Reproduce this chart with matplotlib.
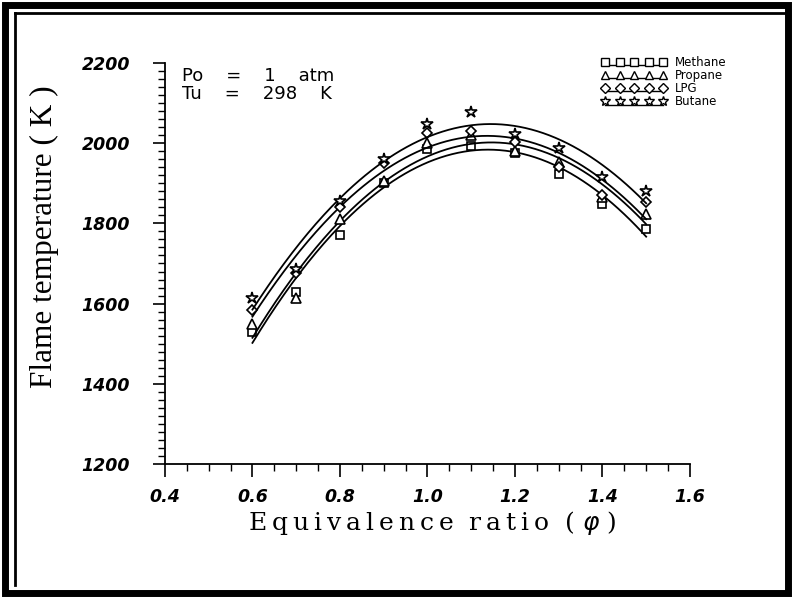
import numpy as np
import matplotlib
matplotlib.use("Agg")
import matplotlib.pyplot as plt
from matplotlib.lines import Line2D
from matplotlib.patches import Rectangle
from matplotlib.ticker import MultipleLocator
from matplotlib.legend_handler import HandlerLine2D, HandlerTuple

# equivalence ratio
phi = [0.6, 0.7, 0.8, 0.9, 1.0, 1.1, 1.2, 1.3, 1.4, 1.5]

# flame temperature (K)
methane = [1529, 1628, 1770, 1900, 1985, 1994, 1975, 1922, 1848, 1787]
propane = [1548, 1614, 1812, 1905, 2000, 2020, 1980, 1952, 1866, 1824]
lpg = [1583, 1677, 1840, 1950, 2025, 2030, 2002, 1940, 1872, 1853]
butane = [1615, 1687, 1856, 1960, 2048, 2078, 2023, 1988, 1915, 1880]

series = [("Methane", methane, "s"), ("Propane", propane, "^"),
          ("LPG", lpg, "D"), ("Butane", butane, "*")]
msize = {"s": 6, "^": 6.5, "D": 5.5, "*": 9}


class UnderLine(HandlerLine2D):
    """Draws the legend line a little below the markers."""
    def create_artists(self, legend, orig_handle, xdescent, ydescent,
                       width, height, fontsize, trans):
        arts = super().create_artists(legend, orig_handle, xdescent,
                                      ydescent, width, height, fontsize,
                                      trans)
        for a in arts:
            a.set_ydata(np.asarray(a.get_ydata()) - 0.4 * height)
        return arts


def spaced(s):
    # mimic the wide letter spacing of the original label
    return "\u2009".join(s)


def main():
    fig = plt.figure(figsize=(7.93, 5.97), dpi=100)
    ax = fig.add_axes([0.208, 0.2228, 0.662, 0.6717])

    x = np.array(phi)
    xs = np.linspace(0.6, 1.5, 200)
    handles = []
    hmap = {}
    for name, vals, mk in series:
        coef = np.polyfit(x, vals, 2)
        ax.plot(xs, np.polyval(coef, xs), color="black", lw=1.3)
        ax.plot(x, vals, linestyle="none", marker=mk, ms=msize[mk],
                mfc="white", mec="black", mew=1.2)
        mline = Line2D([], [], linestyle="none", marker=mk,
                       ms=msize[mk] * 0.85, mfc="white", mec="black",
                       mew=1.0)
        lline = Line2D([], [], color="black", lw=1.0)
        hmap[lline] = UnderLine()
        handles.append((lline, mline))
    hmap[tuple] = HandlerTuple(ndivide=1, pad=0)

    ax.set_xlim(0.4, 1.6)
    ax.set_ylim(1200, 2200)
    ax.xaxis.set_major_locator(MultipleLocator(0.2))
    ax.xaxis.set_minor_locator(MultipleLocator(0.05))
    ax.yaxis.set_major_locator(MultipleLocator(200))
    ax.yaxis.set_minor_locator(MultipleLocator(20))
    for s in ["top", "right"]:
        ax.spines[s].set_visible(False)
    ax.spines["left"].set_linewidth(1.3)
    ax.spines["bottom"].set_linewidth(1.3)
    ax.tick_params(which="major", direction="out", length=9, width=1.2)
    ax.tick_params(which="minor", direction="out", length=5, width=1.0)
    ax.tick_params(axis="x", which="major", pad=8)
    ax.tick_params(axis="y", which="major", pad=16)
    ax.xaxis.set_major_formatter(plt.FormatStrFormatter("%.1f"))
    for lab in ax.get_xticklabels() + ax.get_yticklabels():
        lab.set_fontfamily("DejaVu Sans")
        lab.set_fontweight("bold")
        lab.set_fontstyle("italic")
        lab.set_fontsize(12.5)

    xlab = spaced("Equivalence") + "  " + spaced("ratio") + "  ( " \
        + r"$\varphi$" + " )"
    ax.set_xlabel(xlab, fontsize=18, family="DejaVu Serif")
    ax.xaxis.set_label_coords(0.51, -0.148)
    ax.xaxis.label.set_va("center")
    ax.set_ylabel("Flame temperature ( K )", fontsize=22.5,
                  family="Liberation Serif")
    ax.yaxis.set_label_coords(-0.229, 0.566)
    ax.yaxis.label.set_va("center")

    ax.text(0.032, 0.944, "Po    =    1    atm\nTu    =    298    K",
            fontsize=13, family="DejaVu Sans", va="center",
            transform=ax.transAxes, linespacing=1.0)

    ax.legend(handles=handles, labels=[s[0] for s in series],
              handler_map=hmap, loc="upper left",
              bbox_to_anchor=(0.832, 1.018), numpoints=5, frameon=False,
              fontsize=8.5, handlelength=5.5, handletextpad=0.7,
              labelspacing=0.02, borderpad=0, borderaxespad=0)

    # double frame around the figure
    fig.patches.append(Rectangle((0.006, 0.007), 0.988, 0.985,
                                 transform=fig.transFigure, fill=False,
                                 lw=5, ec="black"))
    fig.add_artist(Line2D([0.019, 0.019], [0.02, 0.978],
                          transform=fig.transFigure, color="black", lw=2))
    fig.add_artist(Line2D([0.019, 0.99], [0.978, 0.978],
                          transform=fig.transFigure, color="black", lw=2))

    fig.savefig("out.png", dpi=100)


if __name__ == "__main__":
    main()
